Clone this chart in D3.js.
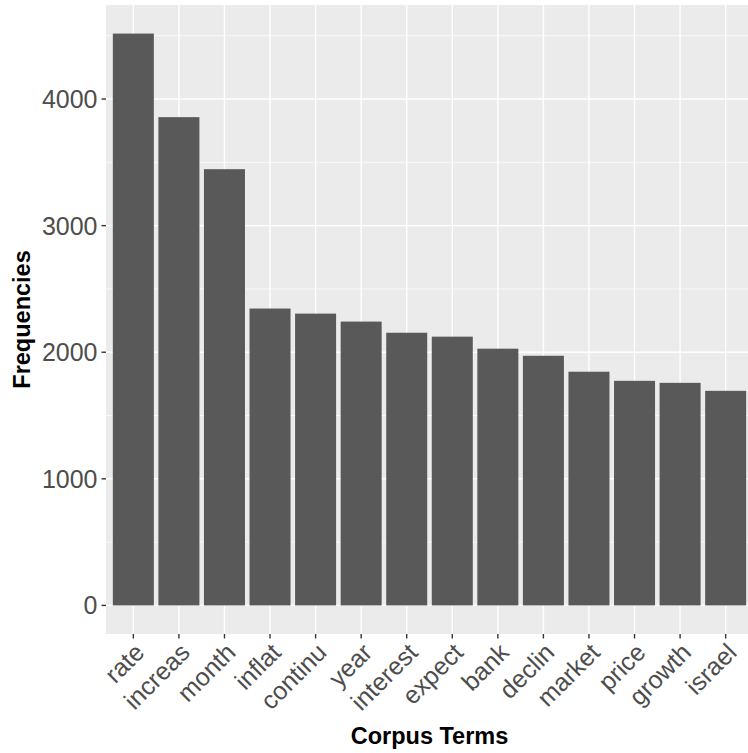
<!DOCTYPE html>
<html>
<head>
<meta charset="utf-8">
<script src="https://cdn.jsdelivr.net/npm/d3@7"></script>
<style>
  html, body { margin: 0; padding: 0; background: #fff; }
  svg { display: block; }
  text { font-family: "Liberation Sans", Arial, sans-serif; }
</style>
</head>
<body>
<svg id="chart" width="748" height="753"></svg>
<script>
const terms = ["rate", "increas", "month", "inflat", "continu", "year", "interest", "expect", "bank", "declin", "market", "price", "growth", "israel"];
const frequencies = [4517, 3857, 3446, 2345, 2305, 2242, 2154, 2123, 2028, 1972, 1846, 1774, 1758, 1695];
const yTicks = [0, 1000, 2000, 3000, 4000];
const yMinor = [500, 1500, 2500, 3500, 4500];
const xTitle = "Corpus Terms";
const yTitle = "Frequencies";

const svg = d3.select("#chart");
const panel = { left: 106, right: 753, top: 5, bottom: 634 };
const tickFont = 25;
const titleFont = 23.5;

const maxV = d3.max(frequencies);
const y = d3.scaleLinear()
  .domain([-0.05 * maxV, maxV * 1.05])
  .range([panel.bottom, panel.top]);

const x = d3.scaleBand()
  .domain(terms)
  .range([panel.left, panel.right])
  .paddingInner(0.1)
  .paddingOuter(0.15);

svg.append("defs").append("clipPath").attr("id", "pclip")
  .append("rect").attr("x", panel.left).attr("y", panel.top)
  .attr("width", panel.right - panel.left).attr("height", panel.bottom - panel.top);

const g = svg.append("g").attr("clip-path", "url(#pclip)");
g.append("rect")
  .attr("x", panel.left).attr("y", panel.top)
  .attr("width", panel.right - panel.left).attr("height", panel.bottom - panel.top)
  .attr("fill", "#EBEBEB");

// minor grid
g.selectAll(".minor").data(yMinor.filter(v => y(v) >= panel.top)).enter().append("line")
  .attr("x1", panel.left).attr("x2", panel.right)
  .attr("y1", d => y(d)).attr("y2", d => y(d))
  .attr("stroke", "#fff").attr("stroke-width", 0.7);
// major grid
g.selectAll(".majory").data(yTicks).enter().append("line")
  .attr("x1", panel.left).attr("x2", panel.right)
  .attr("y1", d => y(d)).attr("y2", d => y(d))
  .attr("stroke", "#fff").attr("stroke-width", 1.4);
g.selectAll(".majorx").data(terms).enter().append("line")
  .attr("x1", d => x(d) + x.bandwidth() / 2).attr("x2", d => x(d) + x.bandwidth() / 2)
  .attr("y1", panel.top).attr("y2", panel.bottom)
  .attr("stroke", "#fff").attr("stroke-width", 1.4);

// bars
g.selectAll(".bar").data(terms).enter().append("rect")
  .attr("x", d => x(d))
  .attr("width", x.bandwidth())
  .attr("y", (d, i) => y(frequencies[i]))
  .attr("height", (d, i) => y(0) - y(frequencies[i]))
  .attr("fill", "#595959");

// y axis
const yAxis = svg.append("g");
yAxis.selectAll("line").data(yTicks).enter().append("line")
  .attr("x1", panel.left - 4.5).attr("x2", panel.left)
  .attr("y1", d => y(d)).attr("y2", d => y(d))
  .attr("stroke", "#333333").attr("stroke-width", 1.4);
yAxis.selectAll("text").data(yTicks).enter().append("text")
  .attr("x", panel.left - 8.5)
  .attr("y", d => y(d))
  .attr("dy", "0.36em")
  .attr("text-anchor", "end")
  .attr("font-size", tickFont)
  .attr("fill", "#4D4D4D")
  .text(d => d);

// x axis
const xAxis = svg.append("g");
xAxis.selectAll("line").data(terms).enter().append("line")
  .attr("x1", d => x(d) + x.bandwidth() / 2).attr("x2", d => x(d) + x.bandwidth() / 2)
  .attr("y1", panel.bottom).attr("y2", panel.bottom + 4.5)
  .attr("stroke", "#333333").attr("stroke-width", 1.4);
xAxis.selectAll("text").data(terms).enter().append("text")
  .attr("transform", d => `translate(${x(d) + x.bandwidth() / 2 + 12.5},${654}) rotate(-45)`)
  .attr("text-anchor", "end")
  .attr("font-size", tickFont)
  .attr("fill", "#4D4D4D")
  .text(d => d);

// titles
svg.append("text")
  .attr("x", (panel.left + panel.right) / 2)
  .attr("y", 744)
  .attr("text-anchor", "middle")
  .attr("font-size", titleFont)
  .attr("font-weight", "bold")
  .attr("fill", "#000")
  .text(xTitle);
svg.append("text")
  .attr("transform", `translate(30,${(panel.top + panel.bottom) / 2}) rotate(-90)`)
  .attr("text-anchor", "middle")
  .attr("font-size", titleFont)
  .attr("font-weight", "bold")
  .attr("fill", "#000")
  .text(yTitle);
</script>
</body>
</html>
